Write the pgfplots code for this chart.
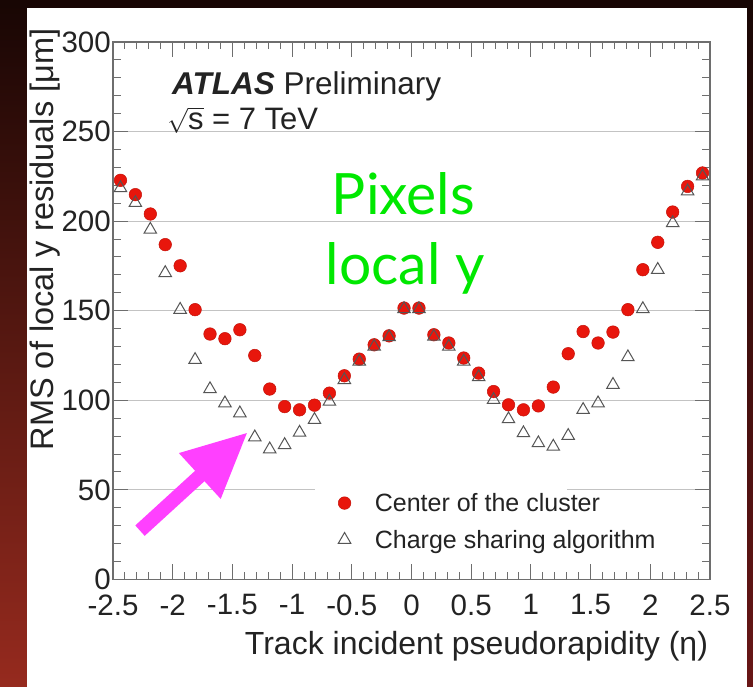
\documentclass[border=0pt]{standalone}
\usepackage{pgfplots}
\pgfplotsset{compat=1.18}
\usepackage{pgfplotstable}
\usepackage{fontspec}
\setmainfont{Liberation Sans}
\newfontfamily\lato{Lato}
\definecolor{ptred}{RGB}{232,22,12}
\definecolor{trigray}{RGB}{85,85,85}
\definecolor{axgray}{RGB}{110,110,110}
\definecolor{gridgray}{RGB}{195,195,195}
\definecolor{lgreen}{RGB}{0,232,0}
\definecolor{magentaA}{RGB}{255,64,255}
\definecolor{bgtop}{RGB}{24,6,4}
\definecolor{bgleftbot}{RGB}{150,42,30}
\definecolor{bgrightbot}{RGB}{105,22,22}
\definecolor{txt}{RGB}{35,35,35}

\pgfplotstableread{
eta c s
-2.4375 222.8 218.5
-2.3125 214.8 210.2
-2.1875 204.0 195.3
-2.0625 186.9 171.1
-1.9375 175.1 150.6
-1.8125 150.6 122.6
-1.6875 137.0 106.3
-1.5625 134.4 98.4
-1.4375 139.4 92.8
-1.3125 125.0 79.4
-1.1875 106.3 72.7
-1.0625 96.5 75.1
-0.9375 94.7 82.0
-0.8125 97.3 89.1
-0.6875 104.0 99.3
-0.5625 113.7 111.4
-0.4375 123.0 121.7
-0.3125 131.0 130.0
-0.1875 136.0 135.3
-0.0625 151.5 151.0
0.0625 151.5 151.0
0.1875 136.6 135.6
0.3125 132.0 130.0
0.4375 123.6 121.7
0.5625 115.2 113.0
0.6875 104.9 100.3
0.8125 97.5 89.5
0.9375 94.7 81.7
1.0625 96.9 76.1
1.1875 107.4 74.2
1.3125 126.0 80.2
1.4375 138.4 94.7
1.5625 132.0 98.4
1.6875 138.1 108.7
1.8125 150.6 124.1
1.9375 172.9 151.0
2.0625 188.2 172.9
2.1875 205.1 199.0
2.3125 219.4 216.7
2.4375 226.9 225.0
}\datatable

\begin{document}
\begin{tikzpicture}
\useasboundingbox (0pt,0pt) rectangle (753pt,687pt);
\shade[top color=bgtop, bottom color=bgleftbot] (0pt,0pt) rectangle (27pt,687pt);
\shade[top color=bgtop, bottom color=bgrightbot] (747pt,0pt) rectangle (753pt,687pt);
\fill[bgtop] (0pt,679pt) rectangle (753pt,687pt);
\fill[white] (27pt,0pt) rectangle (747pt,679pt);
\begin{axis}[
  at={(113pt,107.5pt)}, anchor=south west,
  scale only axis, width=597pt, height=537.5pt,
  xmin=-2.5, xmax=2.5, ymin=0, ymax=300,
  xtick={-2.5,-2,...,2.5}, ytick={0,50,...,300},
  minor tick num=4,
  tick align=inside,
  major tick length=15pt, minor tick length=7.5pt,
  axis line style={axgray, line width=1.3pt},
  tick style={axgray, line width=1pt},
  ymajorgrids, major grid style={gridgray, line width=1pt},
  clip=false,
  /pgf/number format/assume math mode=true,
  tick label style={font=\fontsize{29.5}{29.5}\selectfont, text=txt},
  xticklabel style={inner sep=0pt, anchor=north, yshift=-15pt},
  yticklabel style={inner sep=0pt, anchor=east, xshift=-2pt},
  xlabel={Track incident pseudorapidity (η)},
  ylabel={RMS of local y residuals [μm]},
  xlabel style={at={(rel axis cs:0.997,-0.1403)}, anchor=base east, font=\fontsize{32}{32}\selectfont, text=txt, inner sep=0pt},
  ylabel style={at={(rel axis cs:-0.1005,1.025)}, anchor=base east, font=\fontsize{32.5}{32.5}\selectfont, text=txt, inner sep=0pt},
  legend style={at={(rel axis cs:0.377,0.1645)}, anchor=north west, draw=none, fill=none, inner sep=0pt, font=\fontsize{25}{25}\selectfont, text=txt, row sep=13pt, nodes={inner sep=2pt}, /tikz/every odd column/.append style={column sep=22pt}},
  legend cell align=left,
]
\fill[white] (axis cs:-0.808,46) rectangle (axis cs:1.302,54);
\addplot[only marks, mark=*, mark size=6.3pt, mark options={fill=ptred, draw=ptred!85!black, line width=0.5pt}] table[x=eta,y=c]{\datatable};
\addlegendentry{Center of the cluster}
\addplot[only marks, mark=triangle, mark size=7.2pt, mark options={draw=trigray, line width=1pt, fill=none}] table[x=eta,y=s]{\datatable};
\addlegendentry{Charge sharing algorithm}
\node[anchor=base, font=\lato\fontsize{57}{57}\selectfont, text=lgreen, inner sep=0pt] at (axis cs:-0.067,203.6) {Pixels};
\node[anchor=base, font=\lato\fontsize{57}{57}\selectfont, text=lgreen, inner sep=0pt] at (axis cs:-0.054,164.5) {local y};
\node[anchor=base west, inner sep=0pt, font=\fontsize{31.5}{31.5}\selectfont, text=txt] at (axis cs:-2.006,270.7) {\textbf{\textit{ATLAS}} Preliminary};
\node[anchor=base west, inner sep=0pt, font=\fontsize{31}{31}\selectfont, text=txt] at (axis cs:-2.047,251.1) {$\sqrt{\mbox{s}}$ = 7 TeV};
\fill[magentaA] (axis cs:-1.3786,81.73) -- (axis cs:-1.598,44.97) -- (axis cs:-1.7337,54.86) -- (axis cs:-2.2345,24.36) -- (axis cs:-2.3132,30.17) -- (axis cs:-1.8124,60.67) -- (axis cs:-1.9481,70.56) -- cycle;
\end{axis}
\end{tikzpicture}
\end{document}
